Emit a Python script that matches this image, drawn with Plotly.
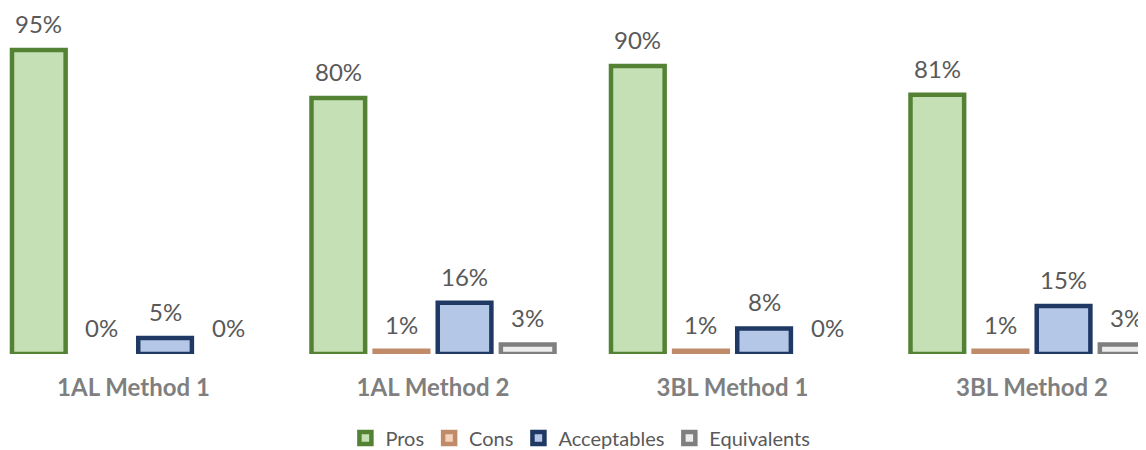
import plotly.graph_objects as go

groups = ["1AL Method 1", "1AL Method 2", "3BL Method 1", "3BL Method 2"]
series_names = ["Pros", "Cons", "Acceptables", "Equivalents"]
pros = [95, 80, 90, 81]
cons = [0, 1, 1, 1]
acceptables = [5, 16, 8, 15]
equivalents = [0, 3, 0, 3]

fills = ["#C5E0B4", "#F4D3BE", "#B4C7E7", "#EDEDED"]
lines = ["#548235", "#BF8B69", "#1F3864", "#7F7F7F"]

series = [pros, cons, acceptables, equivalents]

# page body has an 8px margin; the figure is sized to fill the rest of the window
W, H = 1138, 442
PX_PER_CAT = 299.5
CAT0_CENTER = 125.5
BASE_Y = 346
PX_PER_PCT = 3.2

BARGAP = 0.157
fig = go.Figure()
for name, vals, fc, lc in zip(series_names, series, fills, lines):
    fig.add_trace(go.Bar(
        x=groups, y=[v if v > 0 else None for v in vals], name=name,
        marker=dict(color=fc, line=dict(color=lc, width=4.5)),
        hoverinfo="skip",
    ))

slot = (1 - BARGAP) / len(series)
annotations = []
for j, vals in enumerate(series):
    for i, v in enumerate(vals):
        annotations.append(dict(
            x=i + (j - (len(series) - 1) / 2) * slot, y=v,
            xref="x", yref="y", text=f"{v}%", showarrow=False,
            yanchor="bottom", yshift=10,
            font=dict(family="Lato", size=24, color="#595959"),
        ))

x0 = -CAT0_CENTER / PX_PER_CAT
x1 = x0 + W / PX_PER_CAT
fig.update_layout(
    width=W, height=H,
    margin=dict(l=0, r=0, t=0, b=H - BASE_Y, autoexpand=False),
    barmode="group", bargap=BARGAP, bargroupgap=0.15,
    plot_bgcolor="white", paper_bgcolor="white",
    font=dict(family="Lato", color="#595959"),
    showlegend=True,
    legend=dict(orientation="h", x=0.503, xanchor="center",
                y=-(430 - BASE_Y) / BASE_Y, yanchor="middle",
                font=dict(family="Lato", size=20, color="#595959"),
                itemwidth=30, tracegroupgap=0),
    xaxis=dict(range=[x0, x1], showgrid=False, zeroline=False, showline=False,
               ticks="", ticklabelstandoff=17, automargin=False,
               tickfont=dict(family="Lato", size=24, color="#7F7F7F", weight="bold")),
    yaxis=dict(range=[0, BASE_Y / PX_PER_PCT], visible=False, showgrid=False,
               zeroline=False, automargin=False),
    annotations=annotations,
)
fig.write_html("out.html")
